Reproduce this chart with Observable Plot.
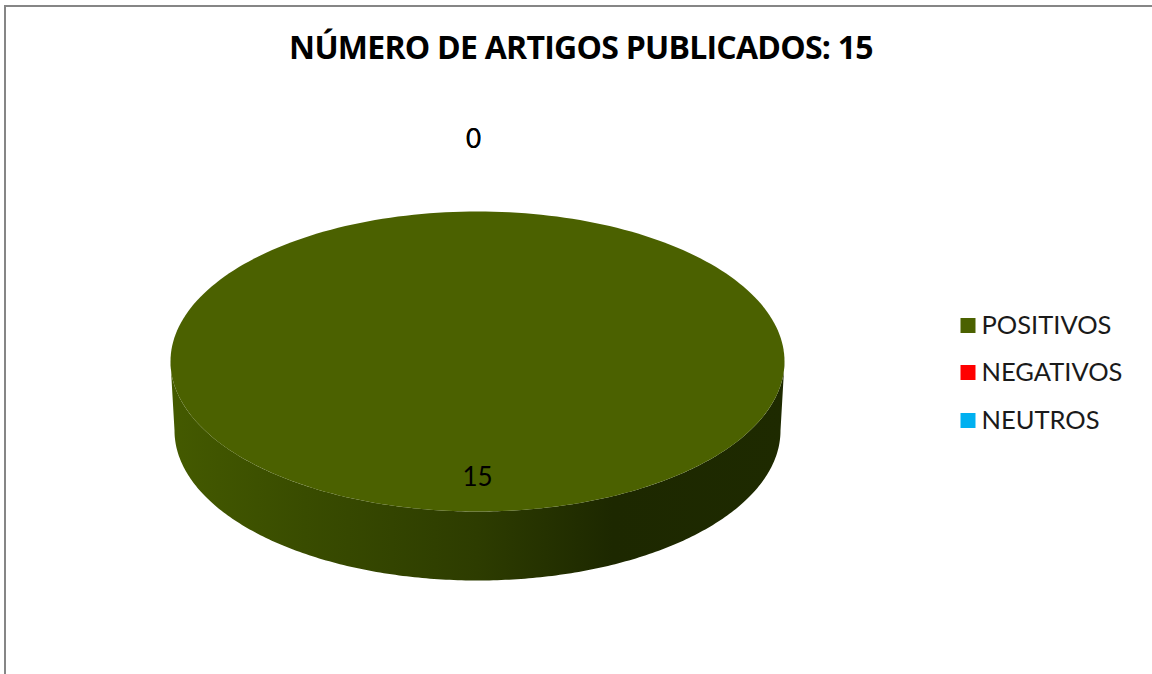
<!DOCTYPE html>
<html lang="pt">
<head>
<meta charset="utf-8">
<script src="https://cdn.jsdelivr.net/npm/d3@7"></script>
<script src="https://cdn.jsdelivr.net/npm/@observablehq/plot@0.6"></script>
<style>
html,body{margin:0;padding:0;background:#fff;overflow:hidden}
#page{position:relative;width:1152px;height:674px;overflow:hidden}
#frame{position:absolute;left:4px;top:5px;right:-4px;bottom:-4px;border-left:2px solid #868686;border-top:2px solid #868686;pointer-events:none}
#title{height:80px;width:1152px;box-sizing:border-box;padding-top:25px;padding-left:10px;text-align:center;font:bold 32px/44px "Open Sans",sans-serif;letter-spacing:-0.75px;color:#000;white-space:nowrap}
svg{display:block}
</style>
</head>
<body>
<div id="page">
<div id="frame"></div>
<div id="title"></div>
<div id="chart"></div>
</div>
<script>
const titleText = "NÚMERO DE ARTIGOS PUBLICADOS: 15";
const categories = ["POSITIVOS", "NEGATIVOS", "NEUTROS"];
const values = [15, 0, 0];
const colors = ["#4b6100", "#ff0000", "#00b0f0"];
const shadeOffsets = [0, 0.22, 0.5, 0.72, 1];
const shadeColors = ["#445a00", "#394c00", "#2d3c00", "#1d2800", "#1e2a00"];

// Page-pixel frame for the pie and the legend
const topEllipse = {cx: 477, cy: 361, rx: 307, ry: 150};
const baseEllipse = {cx: 477, cy: 430, rx: 303, ry: 150};
const legendRows = [325, 372, 420];
const legendX = 967.5;
const STEPS = 240;
const onEllipse = (e, a) => ({x: e.cx + e.rx * Math.sin(a), y: e.cy - e.ry * Math.cos(a)});

const arcs = d3.pie().sort(null)(values).map((a, i) => ({...a, category: categories[i]}));

// Top face of each slice
const topFace = arcs.filter(a => a.value > 0).flatMap(a =>
  d3.range(STEPS + 1).map(k => ({
    category: a.category,
    ...onEllipse(topEllipse, a.startAngle + (a.endAngle - a.startAngle) * k / STEPS)
  }))
);

// Front wall: the visible half of the rim, from right to left, then back along the base
const front = d3.range(STEPS + 1).map(k => Math.PI / 2 + Math.PI * k / STEPS);
const wall = [
  ...front.map(a => onEllipse(topEllipse, a)),
  ...front.slice().reverse().map(a => onEllipse(baseEllipse, a))
];

const legend = categories.map((c, i) => ({category: c, color: colors[i], y: legendRows[i]}));

// Data labels: inside the slice when it has a value, above the pie when it has none
const labels = arcs.map(a => {
  const mid = (a.startAngle + a.endAngle) / 2;
  const reach = a.value > 0 ? 0.775 : 1.48;
  return {
    text: String(a.value),
    x: topEllipse.cx + topEllipse.rx * reach * Math.sin(mid) - (a.value > 0 ? 0 : 4),
    y: topEllipse.cy - topEllipse.ry * reach * Math.cos(mid)
  };
});

document.getElementById("title").textContent = titleText;

const gradient = () => {
  const defs = d3.create("svg:defs");
  const g = defs.append("linearGradient").attr("id", "wallShade");
  shadeOffsets.forEach((o, i) => g.append("stop").attr("offset", o).attr("stop-color", shadeColors[i]));
  return defs.node();
};

const chart = Plot.plot({
  width: 1152,
  height: 594,
  margin: 0,
  x: {domain: [0, 1152], range: [0, 1152], axis: null},
  y: {domain: [80, 674], range: [0, 594], axis: null},
  color: {domain: categories, range: colors},
  marks: [
    gradient,
    Plot.line(wall, {x: "x", y: "y", fill: "url(#wallShade)", stroke: "none"}),
    Plot.line(topFace, {x: "x", y: "y", z: "category", fill: "category", stroke: "none"}),
    Plot.text(labels, {x: "x", y: "y", text: "text", fill: "#000", fontSize: 26, fontFamily: "Lato, sans-serif"}),
    Plot.dot(legend, {x: legendX, y: "y", symbol: "square", r: 8.46, fill: "category", stroke: "none"}),
    Plot.text(legend, {x: legendX + 13.5, y: "y", text: "category", textAnchor: "start", fill: "#1a1a1a", fontSize: 25.5, fontFamily: "Lato, sans-serif"})
  ]
});
document.getElementById("chart").appendChild(chart);
</script>
</body>
</html>
